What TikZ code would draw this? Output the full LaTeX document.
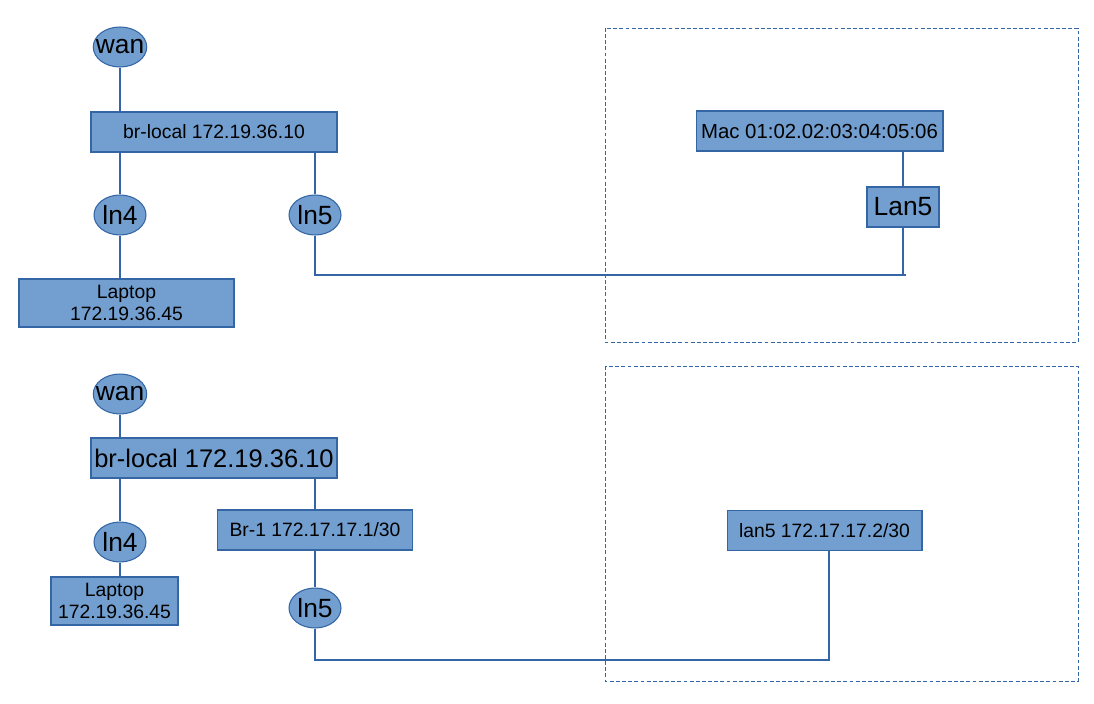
\documentclass[tikz,border=0pt]{standalone}
\usepackage{fontspec}
\setmainfont{Liberation Sans}
\usetikzlibrary{shapes.geometric}
\definecolor{netfill}{HTML}{729FCF}
\definecolor{netline}{HTML}{3465A4}
\tikzset{
  port/.style={ellipse, draw=netline, fill=netfill, line width=0.6pt, inner xsep=-3pt, inner ysep=0pt,
    minimum width=1.04cm, minimum height=0.8cm, font=\fontsize{15}{16}\selectfont},
  hostbox/.style={rectangle, draw=netline, fill=netfill, line width=0.6pt, inner sep=0pt,
    minimum height=0.8cm, align=center, font=\fontsize{11}{12.5}\selectfont},
  wire/.style={netline, line width=0.6pt},
  zone/.style={netline, line width=0.5pt, dash pattern=on 2.2pt off 1.3pt}
}
\begin{document}
\begin{tikzpicture}[x=0.02cm, y=-0.02cm]
    \useasboundingbox (0,0) rectangle (1094,703);

    % upper setup
    \draw[zone] (605,28) rectangle (1078,342);
    \node[port] (wan1) at (120,47) {wan};
    \node[hostbox, minimum width=4.92cm] (brl1) at (214,132) {br-local 172.19.36.10};
    \node[port] (ln41) at (120,215) {ln4};
    \node[port] (ln51) at (315,215) {ln5};
    \node[hostbox, minimum width=4.3cm, minimum height=0.96cm] (lap1) at (126.5,303) {Laptop\\172.19.36.45};
    \node[hostbox, minimum width=4.94cm, font=\fontsize{11.6}{14}\selectfont] (mac) at (819.5,131) {Mac 01:02.02:03:04:05:06};
    \node[hostbox, minimum width=1.44cm, font=\fontsize{15}{16}\selectfont] (lan51) at (903,207) {Lan5};
    \coordinate (j1) at (906,275);

    \draw[wire] (wan1) -- (wan1 |- brl1.north);
    \draw[wire] (ln41) -- (ln41 |- brl1.south);
    \draw[wire] (ln51) -- (ln51 |- brl1.south);
    \draw[wire] (ln41) -- (ln41 |- lap1.north);
    \draw[wire] (lan51) -- (lan51 |- mac.south);
    \draw[wire] (ln51.south) |- (j1);
    \draw[wire] (lan51.south) -- (lan51 |- j1);

    % lower setup
    \draw[zone] (605,366) rectangle (1078,681);
    \node[port] (wan2) at (120,394) {wan};
    \node[hostbox, minimum width=4.92cm, font=\fontsize{14.5}{16}\selectfont] (brl2) at (214,458) {br-local 172.19.36.10};
    \node[port] (ln42) at (120,542) {ln4};
    \node[hostbox, minimum width=2.54cm, minimum height=0.96cm] (lap2) at (114.5,601) {Laptop\\172.19.36.45};
    \node[hostbox, minimum width=3.9cm] (br1) at (315,530) {Br-1 172.17.17.1/30};
    \node[port] (ln52) at (315,608) {ln5};
    \node[hostbox, minimum width=3.9cm] (lan52) at (824.5,530.5) {lan5 172.17.17.2/30};
    \coordinate (j2) at (829,660);

    \draw[wire] (wan2) -- (wan2 |- brl2.north);
    \draw[wire] (ln42) -- (ln42 |- brl2.south);
    \draw[wire] (br1) -- (br1 |- brl2.south);
    \draw[wire] (ln42) -- (ln42 |- lap2.north);
    \draw[wire] (br1) -- (ln52);
    \draw[wire] (ln52.south) |- (j2) -- (j2 |- lan52.south);
\end{tikzpicture}
\end{document}
